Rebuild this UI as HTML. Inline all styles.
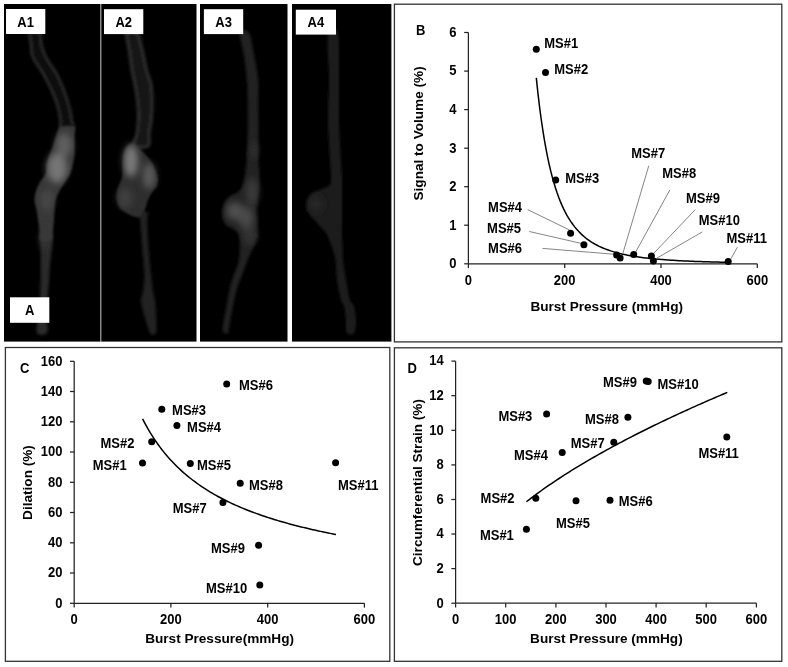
<!DOCTYPE html>
<html><head><meta charset="utf-8"><title>Figure</title>
<style>html,body{margin:0;padding:0;background:#fff;width:788px;height:667px;overflow:hidden}svg{display:block;filter:grayscale(1)}</style>
</head><body>
<svg width="788" height="667" viewBox="0 0 788 667" font-family="Liberation Sans, Arial, sans-serif" font-weight="bold" fill="#000">
<rect x="4" y="4" width="96.3" height="337.6" fill="#000"/>
<rect x="100.3" y="4" width="1" height="337.6" fill="#7a7a7a"/>
<rect x="101.3" y="4" width="95.2" height="337.6" fill="#000"/>
<rect x="200" y="4" width="87.5" height="337.6" fill="#000"/>
<rect x="292" y="4" width="99.4" height="337.6" fill="#000"/>
<defs>
<filter id="b1" x="-50%" y="-50%" width="200%" height="200%"><feGaussianBlur stdDeviation="1.1"/></filter>
<filter id="b2" x="-50%" y="-50%" width="200%" height="200%"><feGaussianBlur stdDeviation="1.8"/></filter>
<filter id="b4" x="-50%" y="-50%" width="200%" height="200%"><feGaussianBlur stdDeviation="3.5"/></filter>
<clipPath id="cA1"><rect x="4" y="4" width="96.3" height="337.6"/></clipPath>
<clipPath id="cA2"><rect x="101.3" y="4" width="95.2" height="337.6"/></clipPath>
<clipPath id="cA3"><rect x="200" y="4" width="87.5" height="337.6"/></clipPath>
<clipPath id="cA4"><rect x="292" y="4" width="99.4" height="337.6"/></clipPath>
</defs>
<g clip-path="url(#cA1)">
<path d="M30.0,33.0 C28.6,35.0 30.7,41.3 31.0,45.0 C31.3,48.7 31.2,52.0 32.0,55.0 C32.8,58.0 34.4,60.3 36.0,63.0 C37.6,65.7 39.8,68.2 41.5,71.0 C43.2,73.8 45.0,77.2 46.5,80.0 C48.0,82.8 49.2,85.3 50.5,88.0 C51.8,90.7 52.9,93.3 54.0,96.0 C55.1,98.7 56.2,101.3 57.0,104.0 C57.8,106.7 58.4,109.2 59.0,112.0 C59.6,114.8 60.2,118.2 60.5,121.0 C60.8,123.8 58.8,127.7 61.0,129.0 C63.2,130.3 71.7,130.3 73.5,129.0 C75.3,127.7 72.5,123.8 72.0,121.0 C71.5,118.2 71.1,114.8 70.5,112.0 C69.9,109.2 69.2,106.7 68.5,104.0 C67.8,101.3 66.9,98.7 66.0,96.0 C65.1,93.3 64.1,90.7 63.0,88.0 C61.9,85.3 60.9,82.8 59.6,80.0 C58.3,77.2 56.7,73.8 55.0,71.0 C53.3,68.2 51.2,65.7 49.5,63.0 C47.8,60.3 46.3,58.0 45.0,55.0 C43.7,52.0 42.4,48.7 41.5,45.0 C40.6,41.3 41.4,35.0 39.5,33.0 C37.6,31.0 31.4,31.0 30.0,33.0 Z" fill="#0f0f0f" stroke="#2a2a2a" stroke-width="2.6" filter="url(#b2)"/>
<path d="M40.5,236.0 C38.7,238.3 40.6,245.3 40.6,250.0 C40.6,254.7 40.6,259.0 40.6,264.0 C40.6,269.0 40.7,274.0 40.6,280.0 C40.5,286.0 40.4,293.7 40.0,300.0 C39.6,306.3 38.5,312.5 38.0,318.0 C37.5,323.5 35.5,330.5 37.0,333.0 C38.5,335.5 45.3,335.5 47.0,333.0 C48.7,330.5 46.9,323.5 47.0,318.0 C47.1,312.5 47.2,306.3 47.5,300.0 C47.8,293.7 48.6,286.0 49.0,280.0 C49.4,274.0 49.6,269.0 50.0,264.0 C50.4,259.0 51.4,254.7 51.6,250.0 C51.9,245.3 53.4,238.3 51.5,236.0 C49.6,233.7 42.3,233.7 40.5,236.0 Z" fill="#2a2a2a" filter="url(#b2)"/>
<path d="M60.4,127.0 C57.4,128.7 57.2,133.8 56.0,137.0 C54.8,140.2 54.1,143.0 53.0,146.0 C51.9,149.0 50.5,152.0 49.5,155.0 C48.5,158.0 47.6,161.0 47.0,164.0 C46.4,167.0 47.2,170.0 46.0,173.0 C44.8,176.0 41.7,179.0 40.0,182.0 C38.3,185.0 36.9,188.0 36.0,191.0 C35.1,194.0 34.4,196.8 34.5,200.0 C34.6,203.2 35.9,206.7 36.5,210.0 C37.1,213.3 37.5,216.7 38.0,220.0 C38.5,223.3 39.1,226.7 39.5,230.0 C39.9,233.3 38.5,238.3 40.5,240.0 C42.5,241.7 49.4,241.7 51.5,240.0 C53.6,238.3 52.6,233.3 53.0,230.0 C53.4,226.7 53.8,223.3 54.0,220.0 C54.2,216.7 54.2,213.3 54.5,210.0 C54.8,206.7 54.7,203.2 55.5,200.0 C56.3,196.8 57.9,194.0 59.5,191.0 C61.1,188.0 63.2,185.0 65.0,182.0 C66.8,179.0 69.0,176.0 70.3,173.0 C71.6,170.0 72.3,167.0 73.0,164.0 C73.7,161.0 74.2,158.0 74.5,155.0 C74.8,152.0 74.5,149.0 74.5,146.0 C74.5,143.0 74.6,140.2 74.5,137.0 C74.4,133.8 76.3,128.7 74.0,127.0 C71.7,125.3 63.4,125.3 60.4,127.0 Z" fill="#383838" filter="url(#b1)"/>
<g filter="url(#b4)"><ellipse cx="57" cy="168" rx="10" ry="15" fill="#747474"/><ellipse cx="64" cy="145" rx="8" ry="12" fill="#5e5e5e"/><ellipse cx="47" cy="200" rx="6" ry="11" fill="#474747"/><ellipse cx="45" cy="238" rx="4" ry="12" fill="#383838"/></g>
</g>
<g clip-path="url(#cA2)">
<path d="M127.0,33.0 C125.8,36.1 128.7,45.3 129.5,51.5 C130.3,57.7 131.1,64.5 132.0,70.0 C132.9,75.5 134.1,79.5 135.0,84.5 C135.9,89.5 136.9,94.5 137.5,100.0 C138.1,105.5 138.6,111.8 138.5,117.5 C138.4,123.2 137.9,129.2 137.0,134.0 C136.1,138.8 131.2,144.0 133.0,146.0 C134.8,148.0 145.3,148.0 148.0,146.0 C150.7,144.0 148.4,138.8 149.0,134.0 C149.6,129.2 151.0,123.2 151.5,117.5 C152.0,111.8 152.1,105.5 152.0,100.0 C151.9,94.5 151.9,89.5 151.0,84.5 C150.1,79.5 147.9,75.5 146.5,70.0 C145.1,64.5 144.1,57.7 142.5,51.5 C140.9,45.3 139.6,36.1 137.0,33.0 C134.4,29.9 128.2,29.9 127.0,33.0 Z" fill="#161616" stroke="#2e2e2e" stroke-width="3" filter="url(#b2)"/>
<path d="M139.5,212.0 C138.3,213.8 140.0,216.4 140.5,222.5 C141.0,228.6 141.8,239.9 142.5,248.7 C143.2,257.4 144.4,267.8 144.5,275.0 C144.6,282.2 143.6,287.7 143.0,292.0 C142.4,296.3 140.8,297.3 141.0,301.0 C141.2,304.7 142.7,309.2 144.0,314.0 C145.3,318.8 147.8,326.7 149.0,330.0 C150.2,333.3 150.0,333.3 151.0,334.0 C152.0,334.7 154.1,334.7 155.0,334.0 C155.9,333.3 156.2,333.3 156.4,330.0 C156.6,326.7 156.2,318.8 156.0,314.0 C155.8,309.2 155.5,304.7 155.0,301.0 C154.5,297.3 153.7,296.3 153.0,292.0 C152.3,287.7 151.8,282.2 151.0,275.0 C150.2,267.8 149.2,257.4 148.5,248.7 C147.8,239.9 147.2,228.6 147.0,222.5 C146.8,216.4 148.8,213.8 147.5,212.0 C146.2,210.2 140.7,210.2 139.5,212.0 Z" fill="#242424" filter="url(#b2)"/>
<path d="M130.0,144.0 C128.5,145.0 126.2,147.3 125.0,150.0 C123.8,152.7 123.4,155.8 123.0,160.0 C122.6,164.2 123.2,170.8 122.5,175.0 C121.8,179.2 119.9,182.2 119.0,185.0 C118.1,187.8 117.3,189.5 117.0,192.0 C116.7,194.5 116.5,197.3 117.0,200.0 C117.5,202.7 118.2,205.7 120.0,208.0 C121.8,210.3 125.3,212.5 128.0,214.0 C130.7,215.5 134.0,216.5 136.0,217.0 C138.0,217.5 139.0,217.5 140.0,217.0 C141.0,216.5 141.1,215.5 142.0,214.0 C142.9,212.5 144.5,210.3 145.5,208.0 C146.5,205.7 146.9,202.7 148.0,200.0 C149.1,197.3 150.5,194.5 152.0,192.0 C153.5,189.5 156.2,187.8 157.0,185.0 C157.8,182.2 158.2,179.2 157.0,175.0 C155.8,170.8 152.7,164.2 150.0,160.0 C147.3,155.8 143.7,152.7 141.0,150.0 C138.3,147.3 135.8,145.0 134.0,144.0 C132.2,143.0 131.5,143.0 130.0,144.0 Z" fill="#2e2e2e" filter="url(#b1)"/>
<g filter="url(#b4)"><ellipse cx="131" cy="161" rx="7" ry="16" fill="#7a7a7a"/><ellipse cx="149" cy="176" rx="6" ry="13" fill="#5c5c5c"/><ellipse cx="125" cy="198" rx="7" ry="10" fill="#404040"/></g>
</g>
<g clip-path="url(#cA3)">
<path d="M240.0,33.0 C239.2,36.7 242.8,47.3 244.0,55.0 C245.2,62.7 246.3,70.7 247.0,79.0 C247.7,87.3 247.8,96.3 248.0,105.0 C248.2,113.7 248.2,122.2 248.0,131.0 C247.8,139.8 247.3,150.5 246.8,158.0 C246.3,165.5 246.1,170.7 245.0,176.0 C243.9,181.3 243.5,186.2 240.5,190.0 C237.5,193.8 230.0,195.3 227.0,199.0 C224.0,202.7 222.9,207.8 222.6,212.0 C222.3,216.2 223.2,221.0 225.3,224.0 C227.4,227.0 232.6,227.5 235.0,230.0 C237.4,232.5 238.9,234.0 239.6,239.0 C240.3,244.0 239.9,254.0 239.0,260.0 C238.1,266.0 235.5,270.3 234.0,275.0 C232.5,279.7 231.3,282.2 230.0,288.0 C228.7,293.8 227.2,303.5 226.0,310.0 C224.8,316.5 223.3,323.2 223.0,327.0 C222.7,330.8 223.2,332.0 224.0,333.0 C224.8,334.0 227.2,334.0 228.0,333.0 C228.8,332.0 228.3,330.8 229.0,327.0 C229.7,323.2 230.7,316.5 232.0,310.0 C233.3,303.5 235.3,293.8 237.0,288.0 C238.7,282.2 240.2,279.7 242.0,275.0 C243.8,270.3 245.1,266.0 247.5,260.0 C249.9,254.0 255.1,244.0 256.7,239.0 C258.3,234.0 256.9,232.5 257.0,230.0 C257.1,227.5 257.7,227.0 257.6,224.0 C257.6,221.0 256.7,216.2 256.7,212.0 C256.7,207.8 257.2,202.7 257.6,199.0 C258.0,195.3 258.7,193.8 259.0,190.0 C259.3,186.2 259.5,181.3 259.4,176.0 C259.3,170.7 258.6,165.5 258.5,158.0 C258.4,150.5 258.6,139.8 258.5,131.0 C258.4,122.2 258.1,113.7 258.0,105.0 C257.9,96.3 258.7,87.3 258.0,79.0 C257.3,70.7 255.5,62.7 254.0,55.0 C252.5,47.3 251.3,36.7 249.0,33.0 C246.7,29.3 240.8,29.3 240.0,33.0 Z" fill="#232323" filter="url(#b2)"/>
<g filter="url(#b4)"><ellipse cx="235" cy="211" rx="9" ry="9" fill="#505050"/><ellipse cx="246" cy="218" rx="8" ry="11" fill="#484848"/><ellipse cx="252" cy="192" rx="6" ry="14" fill="#3a3a3a"/><ellipse cx="250" cy="235" rx="6" ry="10" fill="#363636"/><ellipse cx="254" cy="150" rx="3" ry="8" fill="#363636"/></g>
</g>
<g clip-path="url(#cA4)">
<path d="M328.0,33.0 C326.5,40.8 329.0,65.5 329.0,80.0 C329.0,94.5 327.8,106.7 328.0,120.0 C328.2,133.3 329.5,150.3 330.0,160.0 C330.5,169.7 331.2,173.7 331.0,178.0 C330.8,182.3 331.7,183.7 329.0,186.0 C326.3,188.3 318.3,189.8 315.0,191.6 C311.7,193.4 310.4,194.8 309.0,197.0 C307.6,199.2 306.6,202.3 306.5,205.0 C306.4,207.7 306.6,209.8 308.5,213.0 C310.4,216.2 315.1,220.7 318.0,224.0 C320.9,227.3 323.8,229.4 326.0,233.0 C328.2,236.6 329.8,241.0 331.4,245.5 C333.0,250.0 334.6,254.2 335.5,260.0 C336.4,265.8 336.1,273.3 337.0,280.0 C337.9,286.7 339.8,295.7 341.0,300.0 C342.2,304.3 343.2,302.7 344.0,306.0 C344.8,309.3 345.7,316.0 346.0,320.0 C346.3,324.0 345.7,327.7 346.0,330.0 C346.3,332.3 346.8,333.3 348.0,334.0 C349.2,334.7 351.8,334.7 353.0,334.0 C354.2,333.3 354.5,332.3 355.0,330.0 C355.5,327.7 356.2,324.0 356.0,320.0 C355.8,316.0 355.0,309.3 354.0,306.0 C353.0,302.7 351.3,304.3 350.0,300.0 C348.7,295.7 347.2,286.7 346.0,280.0 C344.8,273.3 343.6,265.8 343.0,260.0 C342.4,254.2 342.7,250.0 342.5,245.5 C342.3,241.0 342.1,236.6 342.0,233.0 C341.9,229.4 342.0,227.3 342.0,224.0 C342.0,220.7 342.0,216.2 342.0,213.0 C342.0,209.8 342.0,207.7 342.0,205.0 C342.0,202.3 342.0,199.2 342.0,197.0 C342.0,194.8 342.0,193.4 342.0,191.6 C342.0,189.8 342.0,188.3 342.0,186.0 C342.0,183.7 342.2,182.3 342.0,178.0 C341.8,173.7 341.5,169.7 341.0,160.0 C340.5,150.3 339.3,133.3 339.0,120.0 C338.7,106.7 339.2,94.5 339.0,80.0 C338.8,65.5 339.8,40.8 338.0,33.0 C336.2,25.2 329.5,25.2 328.0,33.0 Z" fill="#1d1d1d" filter="url(#b2)"/>
<g filter="url(#b4)"><ellipse cx="316" cy="204" rx="7" ry="9" fill="#282828"/></g>
</g>
<rect x="6" y="9" width="39.3" height="25.0" fill="#fff"/>
<text transform="translate(25.6,26.7) scale(1,1.1)" font-size="13" text-anchor="middle">A1</text>
<rect x="104" y="9.2" width="39.3" height="24.9" fill="#fff"/>
<text transform="translate(123.7,26.8) scale(1,1.1)" font-size="13" text-anchor="middle">A2</text>
<rect x="203.9" y="9.2" width="39.3" height="24.9" fill="#fff"/>
<text transform="translate(223.6,26.8) scale(1,1.1)" font-size="13" text-anchor="middle">A3</text>
<rect x="295.8" y="9.7" width="40.2" height="24.9" fill="#fff"/>
<text transform="translate(315.9,27.3) scale(1,1.1)" font-size="13" text-anchor="middle">A4</text>
<rect x="10" y="297.3" width="39.3" height="25.5" fill="#fff"/>
<text transform="translate(29.6,315.2) scale(1,1.1)" font-size="13" text-anchor="middle">A</text>
<rect x="394.4" y="4.2" width="387.4" height="337.7" fill="none" stroke="#333" stroke-width="1.3"/>
<rect x="5.4" y="347.5" width="384.4" height="313.8" fill="none" stroke="#333" stroke-width="1.3"/>
<rect x="394.4" y="347.8" width="387.4" height="313.5" fill="none" stroke="#333" stroke-width="1.3"/>
<text transform="translate(420.7,35.1) scale(1,1.1)" font-size="13" text-anchor="middle">B</text>
<line x1="468.4" y1="32.50000000000003" x2="468.4" y2="263.8" stroke="#222" stroke-width="1.25" fill="none"/>
<line x1="468.4" y1="263.8" x2="757.3" y2="263.8" stroke="#222" stroke-width="1.25" fill="none"/>
<line x1="464.2" y1="263.8" x2="468.4" y2="263.8" stroke="#222" stroke-width="1.25" fill="none"/>
<text transform="translate(456.6,268.1) scale(1,1.1)" font-size="13" text-anchor="end">0</text>
<line x1="464.2" y1="225.2" x2="468.4" y2="225.2" stroke="#222" stroke-width="1.25" fill="none"/>
<text transform="translate(456.6,229.5) scale(1,1.1)" font-size="13" text-anchor="end">1</text>
<line x1="464.2" y1="186.7" x2="468.4" y2="186.7" stroke="#222" stroke-width="1.25" fill="none"/>
<text transform="translate(456.6,191.0) scale(1,1.1)" font-size="13" text-anchor="end">2</text>
<line x1="464.2" y1="148.2" x2="468.4" y2="148.2" stroke="#222" stroke-width="1.25" fill="none"/>
<text transform="translate(456.6,152.5) scale(1,1.1)" font-size="13" text-anchor="end">3</text>
<line x1="464.2" y1="109.6" x2="468.4" y2="109.6" stroke="#222" stroke-width="1.25" fill="none"/>
<text transform="translate(456.6,113.9) scale(1,1.1)" font-size="13" text-anchor="end">4</text>
<line x1="464.2" y1="71.1" x2="468.4" y2="71.1" stroke="#222" stroke-width="1.25" fill="none"/>
<text transform="translate(456.6,75.4) scale(1,1.1)" font-size="13" text-anchor="end">5</text>
<line x1="464.2" y1="32.5" x2="468.4" y2="32.5" stroke="#222" stroke-width="1.25" fill="none"/>
<text transform="translate(456.6,36.8) scale(1,1.1)" font-size="13" text-anchor="end">6</text>
<line x1="468.4" y1="263.8" x2="468.4" y2="268.1" stroke="#222" stroke-width="1.25" fill="none"/>
<text transform="translate(468.4,285.1) scale(1,1.1)" font-size="13" text-anchor="middle">0</text>
<line x1="564.7" y1="263.8" x2="564.7" y2="268.1" stroke="#222" stroke-width="1.25" fill="none"/>
<text transform="translate(564.7,285.1) scale(1,1.1)" font-size="13" text-anchor="middle">200</text>
<line x1="661.0" y1="263.8" x2="661.0" y2="268.1" stroke="#222" stroke-width="1.25" fill="none"/>
<text transform="translate(661.0,285.1) scale(1,1.1)" font-size="13" text-anchor="middle">400</text>
<line x1="757.3" y1="263.8" x2="757.3" y2="268.1" stroke="#222" stroke-width="1.25" fill="none"/>
<text transform="translate(757.3,285.1) scale(1,1.1)" font-size="13" text-anchor="middle">600</text>
<text x="606.7" y="310.5" font-size="13.6" text-anchor="middle">Burst Pressure (mmHg)</text>
<text x="0.0" y="0.0" font-size="13.6" text-anchor="middle" transform="translate(422.8,133.4) rotate(-90)">Signal to Volume (%)</text>
<polyline points="536.30,77.92 537.90,92.89 539.50,106.35 541.10,118.49 542.70,129.46 544.30,139.39 545.90,148.40 547.50,156.60 549.10,164.07 550.70,170.88 552.30,177.11 553.90,182.82 555.50,188.05 557.10,192.86 558.70,197.29 560.30,201.37 561.90,205.14 563.50,208.62 565.10,211.84 566.70,214.83 568.30,217.59 569.90,220.17 571.50,222.56 573.10,224.79 574.70,226.86 576.30,228.80 577.90,230.61 579.50,232.30 581.10,233.88 582.70,235.36 584.30,236.75 585.90,238.06 587.50,239.28 589.10,240.43 590.70,241.52 592.30,242.54 593.90,243.50 595.50,244.41 597.10,245.26 598.70,246.07 600.30,246.83 601.90,247.55 603.50,248.24 605.10,248.88 606.70,249.50 608.30,250.08 609.90,250.63 611.50,251.15 613.10,251.65 614.70,252.12 616.30,252.57 617.90,253.00 619.50,253.40 621.10,253.79 622.70,254.16 624.30,254.51 625.90,254.85 627.50,255.17 629.10,255.47 630.70,255.77 632.30,256.05 633.90,256.31 635.50,256.57 637.10,256.81 638.70,257.05 640.30,257.27 641.90,257.48 643.50,257.69 645.10,257.89 646.70,258.08 648.30,258.26 649.90,258.43 651.50,258.60 653.10,258.76 654.70,258.91 656.30,259.06 657.90,259.20 659.50,259.34 661.10,259.47 662.70,259.60 664.30,259.72 665.90,259.84 667.50,259.95 669.10,260.06 670.70,260.17 672.30,260.27 673.90,260.37 675.50,260.46 677.10,260.55 678.70,260.64 680.30,260.73 681.90,260.81 683.50,260.89 685.10,260.97 686.70,261.04 688.30,261.11 689.90,261.18 691.50,261.25 693.10,261.31 694.70,261.38 696.30,261.44 697.90,261.50 699.50,261.55 701.10,261.61 702.70,261.66 704.30,261.71 705.90,261.76 707.50,261.81 709.10,261.86 710.70,261.91 712.30,261.95 713.90,261.99 715.50,262.03 717.10,262.08 718.70,262.11 720.30,262.15 721.90,262.19 723.50,262.23 725.10,262.26 726.70,262.30 728.30,262.33" fill="none" stroke="#000" stroke-width="1.5"/>
<line x1="527.7" y1="209.6" x2="569.3" y2="229.9" stroke="#777" stroke-width="0.9"/>
<line x1="529.3" y1="231.5" x2="582.5" y2="243.7" stroke="#777" stroke-width="0.9"/>
<line x1="542.5" y1="248.4" x2="615" y2="254.3" stroke="#777" stroke-width="0.9"/>
<line x1="648.8" y1="165.7" x2="622.8" y2="253.6" stroke="#777" stroke-width="0.9"/>
<line x1="669.9" y1="189.9" x2="635.5" y2="252.3" stroke="#777" stroke-width="0.9"/>
<line x1="695.4" y1="209.5" x2="652.8" y2="254.3" stroke="#777" stroke-width="0.9"/>
<line x1="702.3" y1="231.9" x2="655.9" y2="258.7" stroke="#777" stroke-width="0.9"/>
<line x1="737.4" y1="247.2" x2="731" y2="258.7" stroke="#777" stroke-width="0.9"/>
<circle cx="536.3" cy="49.2" r="3.5" fill="#000"/>
<circle cx="545.5" cy="72.5" r="3.5" fill="#000"/>
<circle cx="555.7" cy="180" r="3.5" fill="#000"/>
<circle cx="570.6" cy="233.3" r="3.5" fill="#000"/>
<circle cx="583.9" cy="244.7" r="3.5" fill="#000"/>
<circle cx="616.6" cy="254.9" r="3.5" fill="#000"/>
<circle cx="620.1" cy="258" r="3.5" fill="#000"/>
<circle cx="633.7" cy="254.4" r="3.5" fill="#000"/>
<circle cx="651.4" cy="256" r="3.5" fill="#000"/>
<circle cx="653.4" cy="261" r="3.5" fill="#000"/>
<circle cx="728.2" cy="261.6" r="3.5" fill="#000"/>
<text transform="translate(544.3,48.0) scale(1,1.1)" font-size="13" text-anchor="start">MS#1</text>
<text transform="translate(554.2,74.0) scale(1,1.1)" font-size="13" text-anchor="start">MS#2</text>
<text transform="translate(565.2,183.4) scale(1,1.1)" font-size="13" text-anchor="start">MS#3</text>
<text transform="translate(488.1,212.4) scale(1,1.1)" font-size="13" text-anchor="start">MS#4</text>
<text transform="translate(487.1,233.3) scale(1,1.1)" font-size="13" text-anchor="start">MS#5</text>
<text transform="translate(488.1,252.7) scale(1,1.1)" font-size="13" text-anchor="start">MS#6</text>
<text transform="translate(631.2,158.4) scale(1,1.1)" font-size="13" text-anchor="start">MS#7</text>
<text transform="translate(662.3,178.3) scale(1,1.1)" font-size="13" text-anchor="start">MS#8</text>
<text transform="translate(686.0,202.5) scale(1,1.1)" font-size="13" text-anchor="start">MS#9</text>
<text transform="translate(698.7,225.4) scale(1,1.1)" font-size="13" text-anchor="start">MS#10</text>
<text transform="translate(726.5,242.5) scale(1,1.1)" font-size="13" text-anchor="start">MS#11</text>
<text transform="translate(24.8,372.9) scale(1,1.1)" font-size="13" text-anchor="middle">C</text>
<line x1="74.2" y1="361.29999999999995" x2="74.2" y2="603.3" stroke="#222" stroke-width="1.25" fill="none"/>
<line x1="74.2" y1="603.3" x2="364.5" y2="603.3" stroke="#222" stroke-width="1.25" fill="none"/>
<line x1="70.0" y1="603.3" x2="74.2" y2="603.3" stroke="#222" stroke-width="1.25" fill="none"/>
<text transform="translate(62.4,607.6) scale(1,1.1)" font-size="13" text-anchor="end">0</text>
<line x1="70.0" y1="573.0" x2="74.2" y2="573.0" stroke="#222" stroke-width="1.25" fill="none"/>
<text transform="translate(62.4,577.4) scale(1,1.1)" font-size="13" text-anchor="end">20</text>
<line x1="70.0" y1="542.8" x2="74.2" y2="542.8" stroke="#222" stroke-width="1.25" fill="none"/>
<text transform="translate(62.4,547.1) scale(1,1.1)" font-size="13" text-anchor="end">40</text>
<line x1="70.0" y1="512.5" x2="74.2" y2="512.5" stroke="#222" stroke-width="1.25" fill="none"/>
<text transform="translate(62.4,516.9) scale(1,1.1)" font-size="13" text-anchor="end">60</text>
<line x1="70.0" y1="482.3" x2="74.2" y2="482.3" stroke="#222" stroke-width="1.25" fill="none"/>
<text transform="translate(62.4,486.6) scale(1,1.1)" font-size="13" text-anchor="end">80</text>
<line x1="70.0" y1="452.0" x2="74.2" y2="452.0" stroke="#222" stroke-width="1.25" fill="none"/>
<text transform="translate(62.4,456.3) scale(1,1.1)" font-size="13" text-anchor="end">100</text>
<line x1="70.0" y1="421.8" x2="74.2" y2="421.8" stroke="#222" stroke-width="1.25" fill="none"/>
<text transform="translate(62.4,426.1) scale(1,1.1)" font-size="13" text-anchor="end">120</text>
<line x1="70.0" y1="391.5" x2="74.2" y2="391.5" stroke="#222" stroke-width="1.25" fill="none"/>
<text transform="translate(62.4,395.8) scale(1,1.1)" font-size="13" text-anchor="end">140</text>
<line x1="70.0" y1="361.3" x2="74.2" y2="361.3" stroke="#222" stroke-width="1.25" fill="none"/>
<text transform="translate(62.4,365.6) scale(1,1.1)" font-size="13" text-anchor="end">160</text>
<line x1="74.2" y1="603.3" x2="74.2" y2="607.5999999999999" stroke="#222" stroke-width="1.25" fill="none"/>
<text transform="translate(74.2,624.3) scale(1,1.1)" font-size="13" text-anchor="middle">0</text>
<line x1="170.9" y1="603.3" x2="170.9" y2="607.5999999999999" stroke="#222" stroke-width="1.25" fill="none"/>
<text transform="translate(170.9,624.3) scale(1,1.1)" font-size="13" text-anchor="middle">200</text>
<line x1="267.7" y1="603.3" x2="267.7" y2="607.5999999999999" stroke="#222" stroke-width="1.25" fill="none"/>
<text transform="translate(267.7,624.3) scale(1,1.1)" font-size="13" text-anchor="middle">400</text>
<line x1="364.4" y1="603.3" x2="364.4" y2="607.5999999999999" stroke="#222" stroke-width="1.25" fill="none"/>
<text transform="translate(364.4,624.3) scale(1,1.1)" font-size="13" text-anchor="middle">600</text>
<text x="219.6" y="643" font-size="13.6" text-anchor="middle">Burst Pressure(mmHg)</text>
<text x="0.0" y="0.0" font-size="13.6" text-anchor="middle" transform="translate(32.2,482.5) rotate(-90)">Dilation (%)</text>
<polyline points="142.60,418.83 144.53,422.57 146.47,426.14 148.40,429.54 150.34,432.80 152.27,435.91 154.20,438.89 156.14,441.76 158.07,444.50 160.01,447.14 161.94,449.68 163.87,452.12 165.81,454.47 167.74,456.74 169.68,458.93 171.61,461.04 173.54,463.08 175.48,465.06 177.41,466.96 179.35,468.81 181.28,470.60 183.21,472.34 185.15,474.02 187.08,475.65 189.02,477.23 190.95,478.77 192.88,480.27 194.82,481.72 196.75,483.13 198.69,484.51 200.62,485.85 202.55,487.15 204.49,488.42 206.42,489.66 208.36,490.86 210.29,492.04 212.22,493.19 214.16,494.31 216.09,495.40 218.03,496.47 219.96,497.51 221.89,498.53 223.83,499.53 225.76,500.51 227.70,501.46 229.63,502.39 231.56,503.31 233.50,504.20 235.43,505.07 237.37,505.93 239.30,506.77 241.23,507.59 243.17,508.40 245.10,509.19 247.04,509.97 248.97,510.73 250.90,511.47 252.84,512.20 254.77,512.92 256.71,513.63 258.64,514.32 260.57,515.00 262.51,515.67 264.44,516.32 266.38,516.97 268.31,517.60 270.24,518.22 272.18,518.83 274.11,519.43 276.05,520.03 277.98,520.61 279.91,521.18 281.85,521.74 283.78,522.30 285.72,522.84 287.65,523.38 289.58,523.91 291.52,524.43 293.45,524.94 295.39,525.44 297.32,525.94 299.25,526.43 301.19,526.91 303.12,527.38 305.06,527.85 306.99,528.31 308.92,528.77 310.86,529.22 312.79,529.66 314.73,530.09 316.66,530.52 318.59,530.95 320.53,531.36 322.46,531.78 324.40,532.18 326.33,532.59 328.26,532.98 330.20,533.37 332.13,533.76 334.07,534.14 336.00,534.51" fill="none" stroke="#000" stroke-width="1.5"/>
<circle cx="142.5" cy="462.9" r="3.5" fill="#000"/>
<circle cx="151.7" cy="441.7" r="3.5" fill="#000"/>
<circle cx="161.8" cy="409.3" r="3.5" fill="#000"/>
<circle cx="176.9" cy="425.5" r="3.5" fill="#000"/>
<circle cx="190.3" cy="463.4" r="3.5" fill="#000"/>
<circle cx="226.7" cy="384.1" r="3.5" fill="#000"/>
<circle cx="222.9" cy="502.5" r="3.5" fill="#000"/>
<circle cx="240.2" cy="483.2" r="3.5" fill="#000"/>
<circle cx="258.6" cy="545.3" r="3.5" fill="#000"/>
<circle cx="259.8" cy="584.9" r="3.5" fill="#000"/>
<circle cx="335.6" cy="462.8" r="3.5" fill="#000"/>
<text transform="translate(92.8,470.3) scale(1,1.1)" font-size="13" text-anchor="start">MS#1</text>
<text transform="translate(100.5,447.7) scale(1,1.1)" font-size="13" text-anchor="start">MS#2</text>
<text transform="translate(172.1,415.4) scale(1,1.1)" font-size="13" text-anchor="start">MS#3</text>
<text transform="translate(187.1,431.9) scale(1,1.1)" font-size="13" text-anchor="start">MS#4</text>
<text transform="translate(197.0,470.1) scale(1,1.1)" font-size="13" text-anchor="start">MS#5</text>
<text transform="translate(239.0,390.4) scale(1,1.1)" font-size="13" text-anchor="start">MS#6</text>
<text transform="translate(172.7,512.6) scale(1,1.1)" font-size="13" text-anchor="start">MS#7</text>
<text transform="translate(249.0,490.1) scale(1,1.1)" font-size="13" text-anchor="start">MS#8</text>
<text transform="translate(211.0,553.3) scale(1,1.1)" font-size="13" text-anchor="start">MS#9</text>
<text transform="translate(206.0,592.8) scale(1,1.1)" font-size="13" text-anchor="start">MS#10</text>
<text transform="translate(338.0,489.8) scale(1,1.1)" font-size="13" text-anchor="start">MS#11</text>
<text transform="translate(412.2,373.2) scale(1,1.1)" font-size="13" text-anchor="middle">D</text>
<line x1="455.6" y1="361.14000000000004" x2="455.6" y2="603.2" stroke="#222" stroke-width="1.25" fill="none"/>
<line x1="455.6" y1="603.2" x2="756.6" y2="603.2" stroke="#222" stroke-width="1.25" fill="none"/>
<line x1="451.40000000000003" y1="603.2" x2="455.6" y2="603.2" stroke="#222" stroke-width="1.25" fill="none"/>
<text transform="translate(443.8,607.5) scale(1,1.1)" font-size="13" text-anchor="end">0</text>
<line x1="451.40000000000003" y1="568.6" x2="455.6" y2="568.6" stroke="#222" stroke-width="1.25" fill="none"/>
<text transform="translate(443.8,572.9) scale(1,1.1)" font-size="13" text-anchor="end">2</text>
<line x1="451.40000000000003" y1="534.0" x2="455.6" y2="534.0" stroke="#222" stroke-width="1.25" fill="none"/>
<text transform="translate(443.8,538.3) scale(1,1.1)" font-size="13" text-anchor="end">4</text>
<line x1="451.40000000000003" y1="499.5" x2="455.6" y2="499.5" stroke="#222" stroke-width="1.25" fill="none"/>
<text transform="translate(443.8,503.8) scale(1,1.1)" font-size="13" text-anchor="end">6</text>
<line x1="451.40000000000003" y1="464.9" x2="455.6" y2="464.9" stroke="#222" stroke-width="1.25" fill="none"/>
<text transform="translate(443.8,469.2) scale(1,1.1)" font-size="13" text-anchor="end">8</text>
<line x1="451.40000000000003" y1="430.3" x2="455.6" y2="430.3" stroke="#222" stroke-width="1.25" fill="none"/>
<text transform="translate(443.8,434.6) scale(1,1.1)" font-size="13" text-anchor="end">10</text>
<line x1="451.40000000000003" y1="395.7" x2="455.6" y2="395.7" stroke="#222" stroke-width="1.25" fill="none"/>
<text transform="translate(443.8,400.0) scale(1,1.1)" font-size="13" text-anchor="end">12</text>
<line x1="451.40000000000003" y1="361.1" x2="455.6" y2="361.1" stroke="#222" stroke-width="1.25" fill="none"/>
<text transform="translate(443.8,365.4) scale(1,1.1)" font-size="13" text-anchor="end">14</text>
<line x1="455.6" y1="603.2" x2="455.6" y2="607.5" stroke="#222" stroke-width="1.25" fill="none"/>
<text transform="translate(455.6,624.3) scale(1,1.1)" font-size="13" text-anchor="middle">0</text>
<line x1="505.7" y1="603.2" x2="505.7" y2="607.5" stroke="#222" stroke-width="1.25" fill="none"/>
<text transform="translate(505.7,624.3) scale(1,1.1)" font-size="13" text-anchor="middle">100</text>
<line x1="555.9" y1="603.2" x2="555.9" y2="607.5" stroke="#222" stroke-width="1.25" fill="none"/>
<text transform="translate(555.9,624.3) scale(1,1.1)" font-size="13" text-anchor="middle">200</text>
<line x1="606.0" y1="603.2" x2="606.0" y2="607.5" stroke="#222" stroke-width="1.25" fill="none"/>
<text transform="translate(606.0,624.3) scale(1,1.1)" font-size="13" text-anchor="middle">300</text>
<line x1="656.1" y1="603.2" x2="656.1" y2="607.5" stroke="#222" stroke-width="1.25" fill="none"/>
<text transform="translate(656.1,624.3) scale(1,1.1)" font-size="13" text-anchor="middle">400</text>
<line x1="706.2" y1="603.2" x2="706.2" y2="607.5" stroke="#222" stroke-width="1.25" fill="none"/>
<text transform="translate(706.2,624.3) scale(1,1.1)" font-size="13" text-anchor="middle">500</text>
<line x1="756.4" y1="603.2" x2="756.4" y2="607.5" stroke="#222" stroke-width="1.25" fill="none"/>
<text transform="translate(756.4,624.3) scale(1,1.1)" font-size="13" text-anchor="middle">600</text>
<text x="606.4" y="642.9" font-size="13.6" text-anchor="middle">Burst Pressure (mmHg)</text>
<text x="0.0" y="0.0" font-size="13.6" text-anchor="middle" transform="translate(422.2,482.5) rotate(-90)">Circumferential Strain (%)</text>
<polyline points="526.40,501.73 528.91,499.79 531.42,497.88 533.93,495.99 536.44,494.14 538.96,492.31 541.47,490.51 543.98,488.73 546.49,486.97 549.00,485.23 551.51,483.52 554.02,481.83 556.53,480.15 559.05,478.50 561.56,476.86 564.07,475.24 566.58,473.64 569.09,472.05 571.60,470.48 574.11,468.93 576.62,467.39 579.14,465.86 581.65,464.35 584.16,462.85 586.67,461.37 589.18,459.90 591.69,458.44 594.20,456.99 596.71,455.56 599.23,454.14 601.74,452.73 604.25,451.33 606.76,449.94 609.27,448.56 611.78,447.19 614.29,445.83 616.80,444.48 619.32,443.14 621.83,441.81 624.34,440.49 626.85,439.18 629.36,437.87 631.87,436.58 634.38,435.29 636.89,434.01 639.41,432.74 641.92,431.48 644.43,430.23 646.94,428.98 649.45,427.74 651.96,426.51 654.47,425.28 656.98,424.07 659.50,422.85 662.01,421.65 664.52,420.45 667.03,419.26 669.54,418.08 672.05,416.90 674.56,415.73 677.07,414.56 679.59,413.40 682.10,412.25 684.61,411.10 687.12,409.96 689.63,408.82 692.14,407.69 694.65,406.56 697.16,405.44 699.68,404.33 702.19,403.22 704.70,402.11 707.21,401.01 709.72,399.92 712.23,398.83 714.74,397.74 717.25,396.66 719.77,395.59 722.28,394.52 724.79,393.45 727.30,392.39" fill="none" stroke="#000" stroke-width="1.5"/>
<circle cx="526.4" cy="529.2" r="3.5" fill="#000"/>
<circle cx="535.8" cy="498.2" r="3.5" fill="#000"/>
<circle cx="546.6" cy="414" r="3.5" fill="#000"/>
<circle cx="562.2" cy="452.6" r="3.5" fill="#000"/>
<circle cx="576" cy="500.7" r="3.5" fill="#000"/>
<circle cx="610" cy="500.2" r="3.5" fill="#000"/>
<circle cx="613.8" cy="442.3" r="3.5" fill="#000"/>
<circle cx="627.9" cy="417.3" r="3.5" fill="#000"/>
<circle cx="646.2" cy="380.9" r="3.5" fill="#000"/>
<circle cx="648.2" cy="381.4" r="3.5" fill="#000"/>
<circle cx="726.8" cy="437.1" r="3.5" fill="#000"/>
<text transform="translate(479.9,539.6) scale(1,1.1)" font-size="13" text-anchor="start">MS#1</text>
<text transform="translate(480.6,502.7) scale(1,1.1)" font-size="13" text-anchor="start">MS#2</text>
<text transform="translate(498.4,421.0) scale(1,1.1)" font-size="13" text-anchor="start">MS#3</text>
<text transform="translate(514.0,460.2) scale(1,1.1)" font-size="13" text-anchor="start">MS#4</text>
<text transform="translate(556.0,527.8) scale(1,1.1)" font-size="13" text-anchor="start">MS#5</text>
<text transform="translate(618.7,506.4) scale(1,1.1)" font-size="13" text-anchor="start">MS#6</text>
<text transform="translate(570.8,448.0) scale(1,1.1)" font-size="13" text-anchor="start">MS#7</text>
<text transform="translate(585.0,423.7) scale(1,1.1)" font-size="13" text-anchor="start">MS#8</text>
<text transform="translate(603.0,387.0) scale(1,1.1)" font-size="13" text-anchor="start">MS#9</text>
<text transform="translate(657.5,389.4) scale(1,1.1)" font-size="13" text-anchor="start">MS#10</text>
<text transform="translate(698.4,458.2) scale(1,1.1)" font-size="13" text-anchor="start">MS#11</text>
</svg>
</body></html>
